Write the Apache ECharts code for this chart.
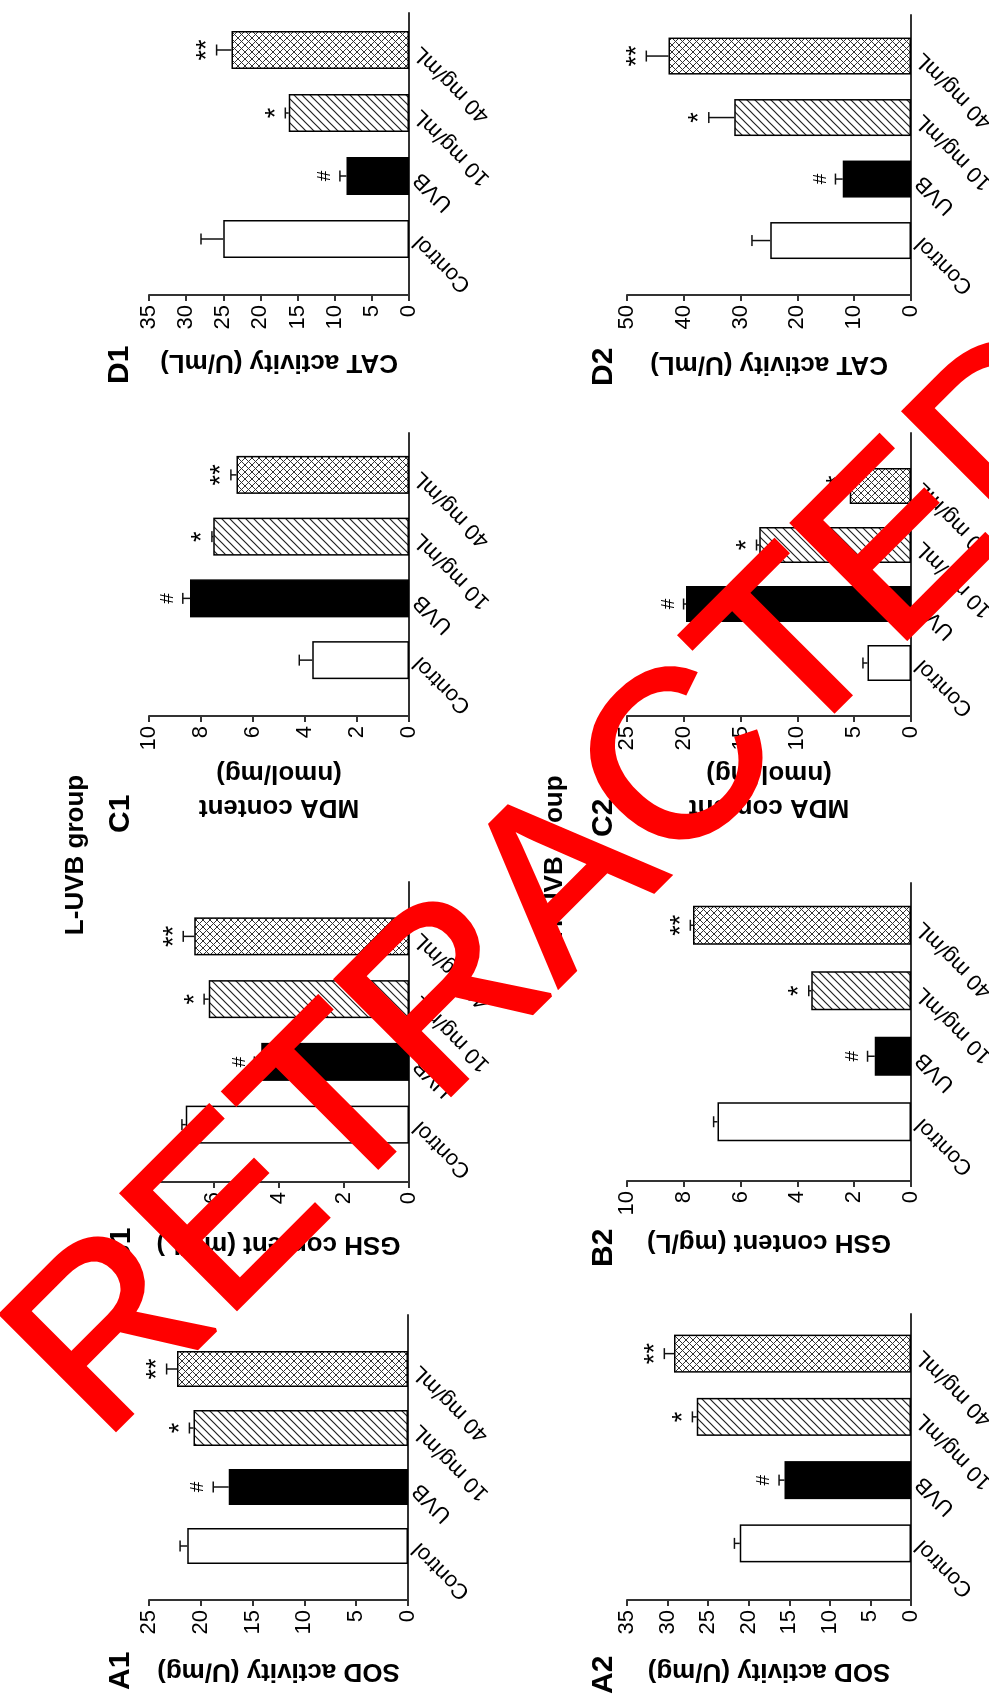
<!DOCTYPE html>
<html style="height: 100%">
<head>
  <meta charset="utf-8">
</head>
<body style="height: 100%; margin: 0; overflow: hidden; background: #fff">
  <!-- the figure is laid out landscape and turned a quarter turn, like the scanned page -->
  <div id="container" style="position: absolute; left: 0; top: 0; width: 1697px; height: 989px; transform-origin: 0 0; transform: translate(0, 1697px) rotate(-90deg)"></div>

  <script type="text/javascript" src="https://cdn.jsdelivr.net/npm/echarts@6.0.0/dist/echarts.min.js"></script>
  <script type="text/javascript">
    var FONT = '"Liberation Sans", Arial, sans-serif';

    var categories = ['Control', 'UVB', '10 mg/mL', '40 mg/mL'];
    var marks = ['', '#', '*', '**'];

    // L-UVB group
    var sodL = [21.3, 17.3, 20.7, 22.3];
    var sodLErr = [0.7, 1.5, 0.4, 1.0];
    var gshL = [6.84, 4.53, 6.14, 6.58];
    var gshLErr = [0.12, 0.21, 0.14, 0.34];
    var mdaL = [3.72, 8.42, 7.53, 6.63];
    var mdaLErr = [0.5, 0.28, 0.05, 0.22];
    var catL = [25.0, 8.4, 16.2, 23.9];
    var catLErr = [3.0, 0.9, 0.45, 2.0];

    // H-UVB group
    var sodH = [21.1, 15.6, 26.4, 29.2];
    var sodHErr = [0.66, 0.66, 0.54, 1.2];
    var gshH = [6.81, 1.28, 3.51, 7.68];
    var gshHErr = [0.14, 0.25, 0.09, 0.09];
    var mdaH = [3.82, 19.8, 13.35, 5.4];
    var mdaHErr = [0.41, 0.22, 0.25, 0.3];
    var catH = [24.8, 12.0, 31.1, 42.7];
    var catHErr = [3.2, 1.3, 4.5, 3.9];

    var panelLabels = ['A1', 'B1', 'C1', 'D1', 'A2', 'B2', 'C2', 'D2'];
    var axisTitles = ['SOD activity (U/mg)', 'GSH content (mg/L)', 'MDA content\n(nmol/mg)', 'CAT activity (U/mL)',
                      'SOD activity (U/mg)', 'GSH content (mg/L)', 'MDA content\n(nmol/mg)', 'CAT activity (U/mL)'];
    var axisMax = [25, 8, 10, 35, 35, 10, 25, 50];
    var axisStep = [5, 2, 2, 5, 5, 2, 5, 10];
    var means = [sodL, gshL, mdaL, catL, sodH, gshH, mdaH, catH];
    var errs = [sodLErr, gshLErr, mdaLErr, catLErr, sodHErr, gshHErr, mdaHErr, catHErr];

    // placement of each panel: outer box [left, top, width, height], bar band [left, width]
    var layout = [
      { outer: [97, 149, 285, 259], inner: [121.5, 236], barW: 36, gap: 54, label: [7, 121] },
      { outer: [515, 148, 300, 261], inner: [541, 251], barW: 38, gap: 45, label: [431, 122] },
      { outer: [981, 149, 283, 260], inner: [1006, 247], barW: 38, gap: 40, label: [864, 121] },
      { outer: [1402, 149, 282, 260], inner: [1426.5, 252], barW: 38, gap: 50, label: [1313, 120] },
      { outer: [97, 627, 286, 284], inner: [122, 253], barW: 38, gap: 54, label: [3, 604] },
      { outer: [516, 627, 298, 284], inner: [542.5, 262], barW: 39, gap: 44, label: [430, 604] },
      { outer: [981, 627, 283, 284], inner: [1004.5, 236], barW: 36, gap: 40, label: [860, 604] },
      { outer: [1402, 627, 280, 284], inner: [1425.7, 246], barW: 37, gap: 52, label: [1311, 604] }
    ];

    function makePattern(cross) {
      var c = document.createElement('canvas');
      var s = cross ? 7 : 8;
      c.width = s; c.height = s;
      var ctx = c.getContext('2d');
      ctx.fillStyle = '#fff';
      ctx.fillRect(0, 0, s, s);
      ctx.strokeStyle = cross ? '#333' : '#222';
      ctx.lineWidth = cross ? 1 : 1.2;
      ctx.beginPath();
      ctx.moveTo(-1, 1); ctx.lineTo(1, -1);
      ctx.moveTo(0, s); ctx.lineTo(s, 0);
      ctx.moveTo(s - 1, s + 1); ctx.lineTo(s + 1, s - 1);
      if (cross) {
        ctx.moveTo(-1, s - 1); ctx.lineTo(1, s + 1);
        ctx.moveTo(0, 0); ctx.lineTo(s, s);
        ctx.moveTo(s - 1, -1); ctx.lineTo(s + 1, 1);
      }
      ctx.stroke();
      return c;
    }
    var hatch = makePattern(false);
    var crossHatch = makePattern(true);
    var barFills = ['#ffffff', '#000000', { image: hatch, repeat: 'repeat' }, { image: crossHatch, repeat: 'repeat' }];

    function renderErr(params, api) {
      var x = api.value(0), m = api.value(1), e = api.value(2);
      var base = api.coord([x, m]);
      var top = api.coord([x, m + e]);
      var ls = { stroke: '#111', lineWidth: 1.5 };
      var kids = [
        { type: 'line', shape: { x1: base[0], y1: base[1], x2: top[0], y2: top[1] }, style: ls },
        { type: 'line', shape: { x1: top[0] - 5.5, y1: top[1], x2: top[0] + 5.5, y2: top[1] }, style: ls }
      ];
      var mk = marks[x];
      if (mk) {
        var isHash = mk === '#';
        kids.push({
          type: 'text', x: top[0], y: top[1] - (isHash ? 15 : 9),
          style: {
            text: mk, textAlign: 'center', textVerticalAlign: 'middle',
            font: (isHash ? '19px ' : '27px ') + FONT, fill: '#000'
          }
        });
      }
      return { type: 'group', children: kids };
    }

    var grid = [], xAxis = [], yAxis = [], series = [], graphic = [];

    layout.forEach(function (p, i) {
      var o = p.outer;
      grid.push({ left: o[0], top: o[1], width: o[2], height: o[3], outerBoundsMode: 'none' });
      grid.push({ left: p.inner[0], top: o[1], width: p.inner[1], height: o[3], outerBoundsMode: 'none' });

      xAxis.push({
        gridIndex: 2 * i, type: 'value', min: 0, max: 1,
        axisLine: { show: true, onZero: false, lineStyle: { color: '#333', width: 2 } },
        axisTick: { show: false }, axisLabel: { show: false }, splitLine: { show: false }
      });
      yAxis.push({
        gridIndex: 2 * i, type: 'value', min: 0, max: axisMax[i], interval: axisStep[i],
        name: axisTitles[i], nameLocation: 'middle', nameRotate: 90, nameGap: p.gap,
        nameTextStyle: { color: '#000', fontFamily: FONT, fontWeight: 'bold', fontSize: 26, lineHeight: 34 },
        axisLine: { show: true, lineStyle: { color: '#333', width: 2 } },
        axisTick: { show: true, length: 6, lineStyle: { color: '#333', width: 2 } },
        axisLabel: { color: '#000', fontFamily: FONT, fontSize: 22, margin: 10 },
        splitLine: { show: false }
      });

      xAxis.push({
        gridIndex: 2 * i + 1, type: 'category', data: categories,
        axisLine: { show: false }, axisTick: { show: false },
        axisLabel: { color: '#000', fontFamily: FONT, fontSize: 22, rotate: 45, margin: 8, interval: 0 }
      });
      yAxis.push({ gridIndex: 2 * i + 1, type: 'value', min: 0, max: axisMax[i], show: false });

      series.push({
        type: 'bar', xAxisIndex: 2 * i + 1, yAxisIndex: 2 * i + 1, barWidth: p.barW,
        data: means[i].map(function (v, k) {
          return { value: v, itemStyle: { color: barFills[k] } };
        }),
        itemStyle: { borderColor: '#000', borderWidth: 1.5 },
        emphasis: { disabled: true }, silent: true
      });
      series.push({
        type: 'custom', xAxisIndex: 2 * i + 1, yAxisIndex: 2 * i + 1, z: 5,
        renderItem: renderErr, silent: true,
        data: means[i].map(function (v, k) { return [k, v, errs[i][k]]; })
      });

      graphic.push({
        type: 'text', x: p.label[0], y: p.label[1],
        style: { text: panelLabels[i], textAlign: 'left', textVerticalAlign: 'middle', font: 'bold 30px ' + FONT, fill: '#000' }
      });
    });

    graphic.push({
      type: 'text', x: 842, y: 76,
      style: { text: 'L-UVB group', textAlign: 'center', textVerticalAlign: 'middle', font: 'bold 26px ' + FONT, fill: '#000' }
    });
    graphic.push({
      type: 'text', x: 840, y: 555,
      style: { text: 'H-UVB group', textAlign: 'center', textVerticalAlign: 'middle', font: 'bold 26px ' + FONT, fill: '#000' }
    });
    // retraction stamp over the whole figure
    graphic.push({
      type: 'text', x: 812, y: 568, rotation: -Math.PI / 4, z: 100,
      style: {
        text: 'RETRACTED', textAlign: 'center', textVerticalAlign: 'middle', font: '237px ' + FONT,
        fill: '#ff0000', stroke: '#ff0000', lineWidth: 4
      }
    });

    var dom = document.getElementById('container');
    var myChart = echarts.init(dom, null, { renderer: 'canvas' });
    var option = {
      backgroundColor: '#fff',
      animation: false,
      grid: grid,
      xAxis: xAxis,
      yAxis: yAxis,
      series: series,
      graphic: graphic
    };
    myChart.setOption(option);
  </script>
</body>
</html>
